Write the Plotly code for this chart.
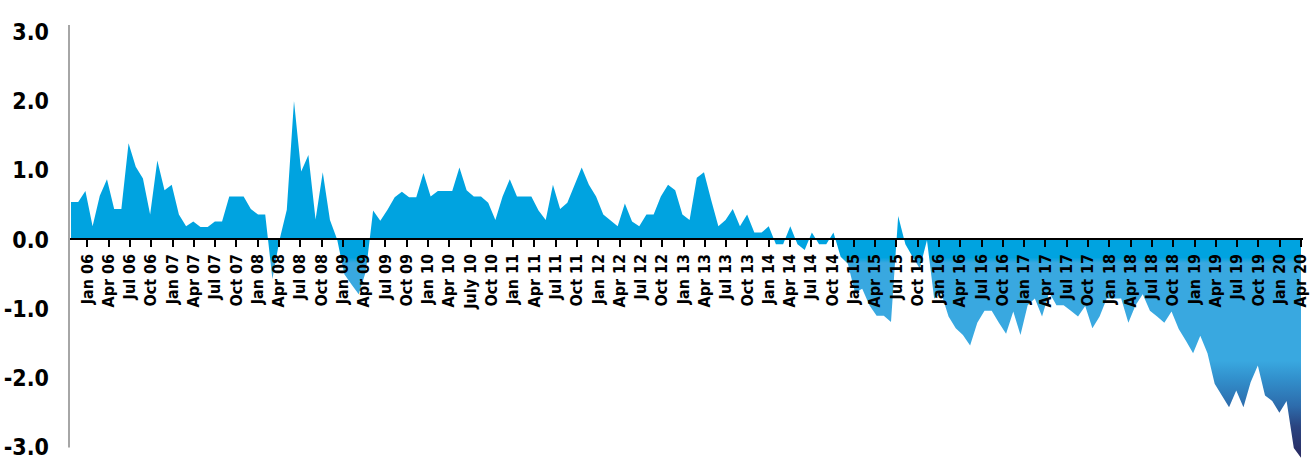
import numpy as np
import plotly.graph_objects as go

# Monthly values (late 2005 .. Apr 2020)
values = [
    0.54, 0.54, 0.70, 0.19, 0.63, 0.87, 0.44, 0.44, 1.39, 1.05,
    0.88, 0.36, 1.14, 0.71, 0.79, 0.36, 0.19, 0.26, 0.18, 0.18,
    0.26, 0.26, 0.62, 0.62, 0.62, 0.44, 0.36, 0.36, -0.57, 0.0,
    0.43, 2.0, 0.98, 1.22, 0.29, 0.97, 0.28, 0.0, -0.50, -0.65,
    -0.79, -0.46, 0.42, 0.27, 0.43, 0.61, 0.69, 0.61, 0.61, 0.96,
    0.62, 0.70, 0.70, 0.70, 1.04, 0.71, 0.62, 0.62, 0.53, 0.28,
    0.62, 0.87, 0.62, 0.62, 0.62, 0.42, 0.28, 0.79, 0.44, 0.53,
    0.79, 1.04, 0.79, 0.62, 0.36, 0.27, 0.19, 0.52, 0.26, 0.19,
    0.36, 0.36, 0.62, 0.79, 0.71, 0.36, 0.28, 0.89, 0.97, 0.57,
    0.19, 0.28, 0.44, 0.19, 0.36, 0.10, 0.10, 0.19, -0.07, -0.07,
    0.19, -0.07, -0.15, 0.10, -0.07, -0.07, 0.10, -0.25, -0.35, -0.77,
    -0.71, -0.95, -1.10, -1.10, -1.19, 0.34, -0.07, -0.25, -0.42, -0.01,
    -0.85, -0.78, -1.11, -1.28, -1.38, -1.53, -1.20, -1.03, -1.03, -1.20,
    -1.36, -1.04, -1.38, -0.95, -0.85, -1.11, -0.76, -0.95, -0.95, -1.03,
    -1.11, -0.96, -1.28, -1.11, -0.85, -0.85, -0.85, -1.20, -0.95, -0.79,
    -1.03, -1.11, -1.20, -1.04, -1.29, -1.46, -1.64, -1.39, -1.64, -2.08,
    -2.25, -2.42, -2.18, -2.42, -2.06, -1.82, -2.25, -2.33, -2.50, -2.33,
    -3.01, -3.15,
]
periods = list(range(len(values)))

tick_labels = [
    "Jan 06", "Apr 06", "Jul 06", "Oct 06", "Jan 07", "Apr 07", "Jul 07", "Oct 07",
    "Jan 08", "Apr 08", "Jul 08", "Oct 08", "Jan 09", "Apr 09", "Jul 09", "Oct 09",
    "Jan 10", "Apr 10", "July 10", "Oct 10", "Jan 11", "Apr 11", "Jul 11", "Oct 11",
    "Jan 12", "Apr 12", "Jul 12", "Oct 12", "Jan 13", "Apr 13", "Jul 13", "Oct 13",
    "Jan 14", "Apr 14", "Jul 14", "Oct 14", "Jan 15", "Apr 15", "Jul 15", "Oct 15",
    "Jan 16", "Apr 16", "Jul 16", "Oct 16", "Jan 17", "Apr 17", "Jul 17", "Oct 17",
    "Jan 18", "Apr 18", "Jul 18", "Oct 18", "Jan 19", "Apr 19", "Jul 19", "Oct 19",
    "Jan 20", "Apr 20",
]

y_ticks = [3, 2, 1, 0, -1, -2, -3]
y_tick_text = ["3.0", "2.0", "1.0", "0.0", "-1.0", "-2.0", "-3.0"]

FONT = "'Liberation Sans Narrow', 'DejaVu Sans Condensed', 'Arial Narrow', sans-serif"

n = len(values)
tick_pos = np.linspace(2.27, n - 1, len(tick_labels))

y_lo, y_hi = -3.182, 3.095
x_lo, x_hi = -0.28, (n - 1) + 0.28

fig = go.Figure()
fig.add_trace(go.Scatter(
    x=periods, y=values, mode="lines",
    line=dict(width=0, color="rgba(0,0,0,0)"),
    fill="tozeroy",
    fillgradient=dict(
        type="vertical", start=-3.2, stop=2.05,
        colorscale=[
            [0.0, "rgb(40,38,92)"],
            [0.095, "rgb(42,68,128)"],
            [0.152, "rgb(45,108,172)"],
            [0.229, "rgb(50,145,205)"],
            [0.276, "rgb(57,168,224)"],
            [0.545, "rgb(57,168,224)"],
            [0.56, "rgb(0,163,224)"],
            [1.0, "rgb(0,163,224)"],
        ],
    ),
    hoverinfo="skip", showlegend=False,
))

# vertical value-axis line (ends at the -3.0 tick, as in the reference)
fig.add_shape(type="line", xref="paper", yref="y", x0=0, x1=0,
              y0=y_ticks[-1], y1=y_hi, line=dict(color="#a6a6a6", width=2),
              layer="above")

fig.update_layout(
    width=1315, height=460,
    margin=dict(l=69, r=12, t=25, b=0),
    paper_bgcolor="white", plot_bgcolor="white",
    showlegend=False,
    xaxis=dict(
        range=[x_lo, x_hi], anchor="free",
        position=-y_lo / (y_hi - y_lo),
        showline=True, linecolor="black", linewidth=2,
        ticks="outside", ticklen=7, tickwidth=2, tickcolor="black",
        tickmode="array", tickvals=tick_pos, ticktext=tick_labels,
        tickangle=-90,
        tickfont=dict(family=FONT, size=16, color="black", weight="bold"),
        showgrid=False, zeroline=False,
    ),
    yaxis=dict(
        range=[y_lo, y_hi],
        showline=False,
        tickmode="array", tickvals=y_ticks, ticktext=y_tick_text,
        ticks="", ticklabelstandoff=19, ticklabeloverflow="allow",
        tickfont=dict(family=FONT, size=23, color="black", weight="bold"),
        showgrid=False, zeroline=False,
    ),
)

fig.write_html("out.html")
